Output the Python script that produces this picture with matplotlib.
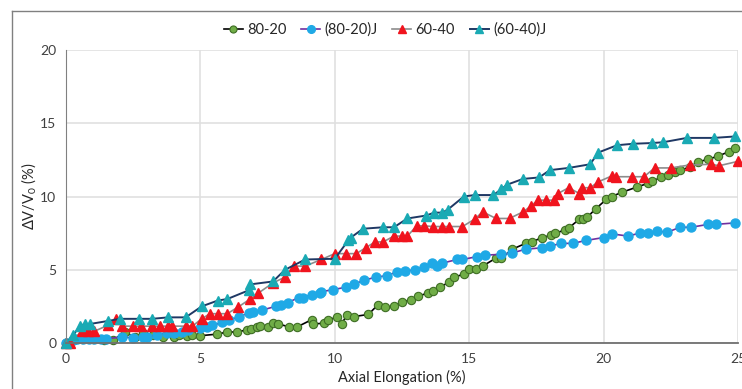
import matplotlib
matplotlib.use("Agg")
import matplotlib.pyplot as plt
from matplotlib.lines import Line2D

plt.rcParams['font.family'] = ['Lato', 'DejaVu Sans']
plt.rcParams['mathtext.fontset'] = 'custom'
plt.rcParams['mathtext.rm'] = 'Lato'

# 80-20
x_8020 = [0, 0.3, 0.6, 1.0, 1.4, 1.75, 2.2, 2.55, 2.85, 3.25,
          3.6, 4.0, 4.2, 4.5, 4.7, 5.0, 5.6, 6.0, 6.35, 6.75,
          6.9, 7.1, 7.2, 7.5, 7.7, 7.9, 8.3, 8.6, 9.15, 9.2,
          9.6, 9.75, 10.1, 10.25, 10.45, 10.7, 11.25, 11.6, 11.85, 12.2,
          12.5, 12.85, 13.1, 13.45, 13.65, 13.9, 14.25, 14.45, 14.8, 15.0,
          15.25, 15.5, 16.0, 16.2, 16.6, 17.1, 17.35, 17.7, 18.05, 18.2,
          18.55, 18.7, 19.1, 19.25, 19.4, 19.7, 20.1, 20.3, 20.7, 21.25,
          21.65, 21.8, 22.15, 22.4, 22.65, 22.85, 23.2, 23.5, 23.9, 24.25,
          24.65, 24.9]
y_8020 = [0, 0.2, 0.25, 0.25, 0.2, 0.2, 0.75, 0.4, 0.7, 0.55,
          0.4, 0.4, 0.55, 0.5, 0.55, 0.5, 0.6, 0.75, 0.75, 0.9,
          0.95, 1.1, 1.15, 1.1, 1.35, 1.3, 1.1, 1.1, 1.6, 1.3,
          1.35, 1.6, 1.75, 1.3, 1.9, 1.8, 1.95, 2.6, 2.45, 2.5,
          2.8, 2.95, 3.2, 3.4, 3.55, 3.8, 4.15, 4.5, 4.7, 5.05,
          5.05, 5.25, 5.8, 5.8, 6.4, 6.8, 6.9, 7.2, 7.35, 7.5,
          7.7, 7.85, 8.45, 8.45, 8.6, 9.15, 9.8, 10.0, 10.3, 10.65,
          10.9, 11.05, 11.3, 11.5, 11.7, 11.8, 12.0, 12.35, 12.55, 12.75,
          13.05, 13.3]

# (80-20)J
x_8020j = [0, 0.25, 0.4, 0.65, 0.85, 1.05, 1.3, 1.5, 2.1, 2.5,
           2.85, 3.0, 3.4, 3.75, 4.0, 4.3, 4.55, 5.0, 5.25, 5.45,
           5.8, 6.05, 6.45, 6.8, 6.95, 7.3, 7.8, 8.0, 8.25, 8.65,
           8.8, 9.15, 9.45, 9.5, 9.95, 10.4, 10.7, 11.1, 11.55, 11.95,
           12.3, 12.6, 13.0, 13.3, 13.6, 13.8, 14.0, 14.55, 14.75, 15.3,
           15.6, 16.2, 16.6, 17.1, 17.7, 18.0, 18.4, 18.85, 19.35, 20.0,
           20.3, 20.9, 21.35, 21.65, 22.0, 22.35, 22.85, 23.25, 23.9, 24.2,
           24.9]
y_8020j = [0, 0.2, 0.3, 0.3, 0.3, 0.3, 0.3, 0.3, 0.4, 0.35,
           0.4, 0.4, 0.55, 0.7, 0.7, 0.75, 0.9, 1.0, 1.1, 1.2,
           1.4, 1.55, 1.8, 2.05, 2.1, 2.25, 2.5, 2.6, 2.75, 3.1,
           3.1, 3.3, 3.4, 3.5, 3.65, 3.8, 4.0, 4.3, 4.5, 4.6,
           4.85, 4.9, 5.0, 5.2, 5.45, 5.25, 5.45, 5.7, 5.7, 5.9,
           6.0, 6.05, 6.15, 6.4, 6.5, 6.6, 6.8, 6.8, 7.0, 7.2,
           7.45, 7.3, 7.5, 7.5, 7.65, 7.55, 7.9, 7.9, 8.1, 8.1,
           8.2]

# 60-40
x_6040 = [0, 0.15, 0.6, 0.8, 1.05, 1.55, 1.85, 2.1, 2.5, 2.8,
          3.2, 3.5, 3.8, 3.95, 4.45, 4.7, 5.05, 5.35, 5.65, 6.0,
          6.4, 6.85, 7.15, 7.7, 8.15, 8.5, 8.9, 9.5, 10.0, 10.4,
          10.8, 11.15, 11.5, 11.8, 12.2, 12.5, 12.7, 13.05, 13.3, 13.65,
          14.0, 14.25, 14.75, 15.2, 15.5, 16.0, 16.5, 17.0, 17.3, 17.55,
          17.85, 18.15, 18.3, 18.7, 19.1, 19.2, 19.5, 19.8, 20.3, 20.45,
          21.05, 21.5, 21.9, 22.5, 23.2, 24.0, 24.3, 25.0]
y_6040 = [0, 0, 0.8, 0.8, 0.8, 1.2, 1.65, 1.15, 1.15, 1.15,
          1.15, 1.15, 1.15, 1.15, 1.15, 1.15, 1.65, 2.0, 2.0, 2.0,
          2.45, 3.0, 3.4, 4.1, 4.5, 5.25, 5.25, 5.7, 6.1, 6.1,
          6.1, 6.5, 6.9, 6.9, 7.3, 7.3, 7.3, 8.0, 8.0, 7.95,
          7.95, 7.95, 7.95, 8.45, 8.95, 8.5, 8.5, 8.95, 9.35, 9.75,
          9.75, 9.75, 10.2, 10.6, 10.2, 10.6, 10.6, 11.0, 11.4, 11.35,
          11.35, 11.35, 11.95, 11.95, 12.15, 12.2, 12.1, 12.4]

# (60-40)J
x_6040j = [0, 0.27, 0.52, 0.7, 0.9, 1.55, 2.0, 2.7, 3.2, 3.8,
           4.45, 5.05, 5.65, 6.0, 6.8, 6.85, 7.7, 8.15, 8.9, 10.0,
           10.5, 10.6, 11.05, 11.8, 12.2, 12.7, 13.4, 13.7, 14.0, 14.2,
           14.8, 15.2, 15.9, 16.2, 16.4, 17.0, 17.6, 18.0, 18.7, 19.5,
           19.8, 20.5, 21.1, 21.8, 22.2, 23.1, 24.1, 24.9]
y_6040j = [0, 0.55, 1.16, 1.3, 1.3, 1.5, 1.65, 1.65, 1.65, 1.75,
           1.75, 2.5, 2.9, 3.0, 3.6, 4.0, 4.2, 5.0, 5.7, 5.75,
           7.0, 7.2, 7.8, 7.9, 7.9, 8.5, 8.7, 8.9, 8.9, 9.1,
           10.0, 10.1, 10.1, 10.5, 10.8, 11.2, 11.3, 11.8, 11.95, 12.2,
           13.0, 13.5, 13.6, 13.65, 13.7, 14.0, 14.0, 14.1]

fig = plt.figure(figsize=(7.42, 3.89), dpi=100)
ax = fig.add_axes([66 / 742, 46 / 389, 672 / 742, 293 / 389])

ax.plot(x_8020, y_8020, color='black', lw=1.2, marker='o', ms=6,
        mfc='#70ad47', mec='#3f6e25', mew=0.8, label='80-20', clip_on=False)
ax.plot(x_8020j, y_8020j, color='#7030a0', lw=1.2, marker='o', ms=6.5,
        mfc='#1fa9e6', mec='#1fa9e6', label='(80-20)J', clip_on=False)
ax.plot(x_6040, y_6040, color='#8c8c8c', lw=1.2, marker='^', ms=6.5,
        mfc='#f0141e', mec='#f0141e', label='60-40', clip_on=False)
ax.plot(x_6040j, y_6040j, color='#1f3864', lw=1.4, marker='^', ms=6.5,
        mfc='#1aaab4', mec='#1aaab4', label='(60-40)J', clip_on=False)

ax.set_xlim(0, 25)
ax.set_ylim(0, 20)
ax.set_xticks(range(0, 26, 5))
ax.set_yticks(range(0, 21, 5))
ax.grid(True, color='#e0e0e0', lw=1.2)
ax.set_axisbelow(True)
for s in ['top', 'right']:
    ax.spines[s].set_visible(False)
ax.spines['left'].set_color('#808080')
ax.spines['bottom'].set_color('#707070')
ax.spines['bottom'].set_linewidth(1.3)
ax.tick_params(length=0, labelsize=10, colors='#404040', pad=7)

ax.set_xlabel('Axial Elongation (%)', fontsize=10.5, color='#262626', labelpad=4)
ax.set_ylabel('ΔV/V$_0$ (%)', fontsize=10.5, color='#262626')
ax.yaxis.set_label_coords(-0.04, 0.5)

ax.legend(loc='center', bbox_to_anchor=(385 / 742, 1 - 30 / 389),
          bbox_transform=fig.transFigure, ncol=4, frameon=False,
          fontsize=10.5, handlelength=1.3, handletextpad=0.3,
          columnspacing=1.0, labelcolor='#262626', markerscale=0.85)

# chart border
fig.add_artist(Line2D([11.5 / 742, 11.5 / 742], [0, 1 - 10.5 / 389],
                      transform=fig.transFigure, color='#808080', lw=1))
fig.add_artist(Line2D([11.5 / 742, 1], [1 - 10.5 / 389, 1 - 10.5 / 389],
                      transform=fig.transFigure, color='#808080', lw=1))

fig.savefig('out.png', dpi=100)
